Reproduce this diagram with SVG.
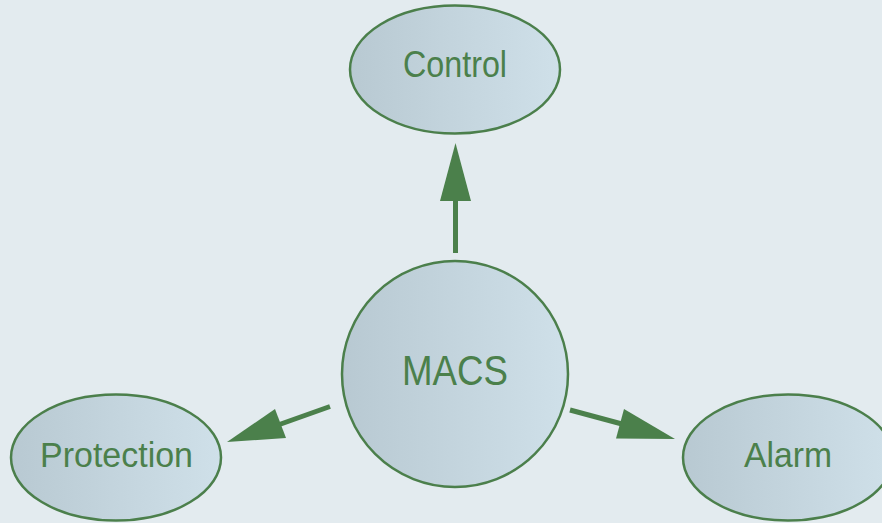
<svg xmlns="http://www.w3.org/2000/svg" width="882" height="523" viewBox="0 0 882 523">
<defs>
<linearGradient id="g" x1="0" y1="0" x2="1" y2="0">
<stop offset="0" stop-color="#b8c9d2"/>
<stop offset="1" stop-color="#cfe0e9"/>
</linearGradient>
<style>
.n{fill:url(#g);stroke:#4b7f4b;stroke-width:2.5}
.t{fill:#4b804b;font-family:"Liberation Sans",Arial,sans-serif;text-anchor:middle}
.s{stroke:#4b804b;stroke-width:5;fill:none}
.h{fill:#4b804b}
</style>
</defs>
<rect width="882" height="523" fill="#e3ebef"/>
<g id="connectors">
<line class="s" x1="455.5" y1="253" x2="455.5" y2="198"/>
<polygon class="h" points="455.5,143 440,201 471,201"/>
<line class="s" x1="330" y1="406.5" x2="278" y2="425"/>
<polygon class="h" points="227,442 275,409 286,438"/>
<line class="s" x1="570" y1="410" x2="622" y2="424"/>
<polygon class="h" points="675,439 624,409 616,438.5"/>
</g>
<g id="control">
<ellipse class="n" cx="455" cy="69.5" rx="105" ry="64"/>
<text class="t" x="455" y="77" font-size="37" textLength="104" lengthAdjust="spacingAndGlyphs">Control</text>
</g>
<g id="macs">
<circle class="n" cx="455" cy="374" r="113"/>
<text class="t" x="455" y="385" font-size="43" textLength="106" lengthAdjust="spacingAndGlyphs">MACS</text>
</g>
<g id="protection">
<ellipse class="n" cx="116" cy="457.5" rx="105" ry="63"/>
<text class="t" x="116.5" y="467" font-size="35" textLength="153" lengthAdjust="spacingAndGlyphs">Protection</text>
</g>
<g id="alarm">
<ellipse class="n" cx="788" cy="457.5" rx="105" ry="63"/>
<text class="t" x="788" y="467" font-size="35" textLength="88" lengthAdjust="spacingAndGlyphs">Alarm</text>
</g>
</svg>
